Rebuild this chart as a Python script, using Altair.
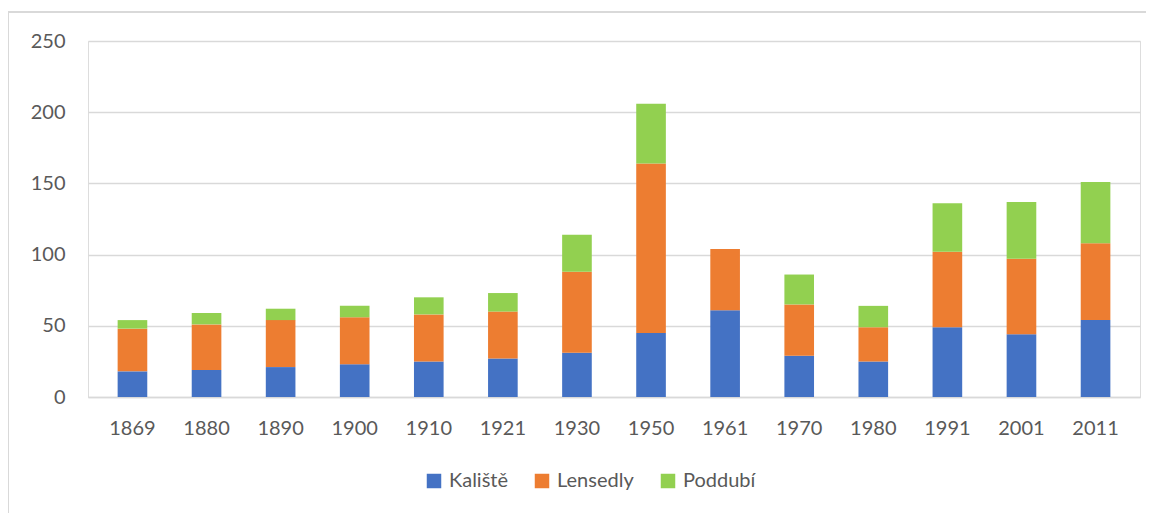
import altair as alt
import pandas as pd

years = ["1869", "1880", "1890", "1900", "1910", "1921", "1930", "1950",
         "1961", "1970", "1980", "1991", "2001", "2011"]
series = ["Kaliště", "Lensedly", "Poddubí"]
kaliste = [18, 19, 21, 23, 25, 27, 31, 45, 61, 29, 25, 49, 44, 54]
lensedly = [30, 32, 33, 33, 33, 33, 57, 119, 43, 36, 24, 53, 53, 54]
poddubi = [6, 8, 8, 8, 12, 13, 26, 42, 0, 21, 15, 34, 40, 43]
colors = ["#4472C4", "#ED7D31", "#92D050"]

rows = []
for i, y in enumerate(years):
    for k, (name, vals) in enumerate(zip(series, [kaliste, lensedly, poddubi])):
        rows.append({"year": y, "series": name, "value": vals[i], "idx": k})
df = pd.DataFrame(rows)

FONT = "Lato"
GREY = "#595959"
W, H = 1052, 356

bars = alt.Chart(df).mark_bar().encode(
    x=alt.X("year:O", sort=years, title=None,
            scale=alt.Scale(paddingInner=0.6, paddingOuter=0.4),
            axis=alt.Axis(labelAngle=0, ticks=False, domain=True, domainColor="#d9d9d9",
                          domainWidth=1.5, labelFont=FONT, labelFontSize=20,
                          labelColor=GREY, labelPadding=21, grid=False)),
    y=alt.Y("value:Q", title=None, stack="zero",
            scale=alt.Scale(domain=[0, 250], nice=False),
            axis=alt.Axis(values=[0, 50, 100, 150, 200, 250], ticks=False, domain=False,
                          gridColor="#d9d9d9", gridWidth=1.5, labelFont=FONT,
                          labelFontSize=20, labelColor=GREY, labelPadding=23)),
    color=alt.Color("series:N", sort=series,
                    scale=alt.Scale(domain=series, range=colors),
                    legend=alt.Legend(title=None, orient="none", direction="horizontal",
                                      legendX=336, legendY=430, symbolType="square",
                                      symbolSize=210, symbolStrokeWidth=0,
                                      labelFont=FONT, labelFontSize=20, labelColor=GREY,
                                      columnPadding=24, labelOffset=5)),
    order=alt.Order("idx:Q", sort="ascending"),
)

frame_left = alt.Chart(df).mark_rule(color="#d9d9d9", strokeWidth=1.5, clip=False).encode(
    x=alt.value(-80), y=alt.value(-29), y2=alt.value(H + 140))
frame_top = alt.Chart(df).mark_rule(color="#d9d9d9", strokeWidth=1.5, clip=False).encode(
    x=alt.value(-80), x2=alt.value(W + 20), y=alt.value(-29))

chart = alt.layer(frame_left, frame_top, bars).properties(
    width=W, height=H,
    autosize=alt.AutoSizeParams(type="none"),
    padding={"left": 80, "top": 33, "right": 6, "bottom": 120},
).configure_view(stroke=None).configure(background="white")

chart.save("out.html", embed_options={"renderer": "svg", "actions": False})
